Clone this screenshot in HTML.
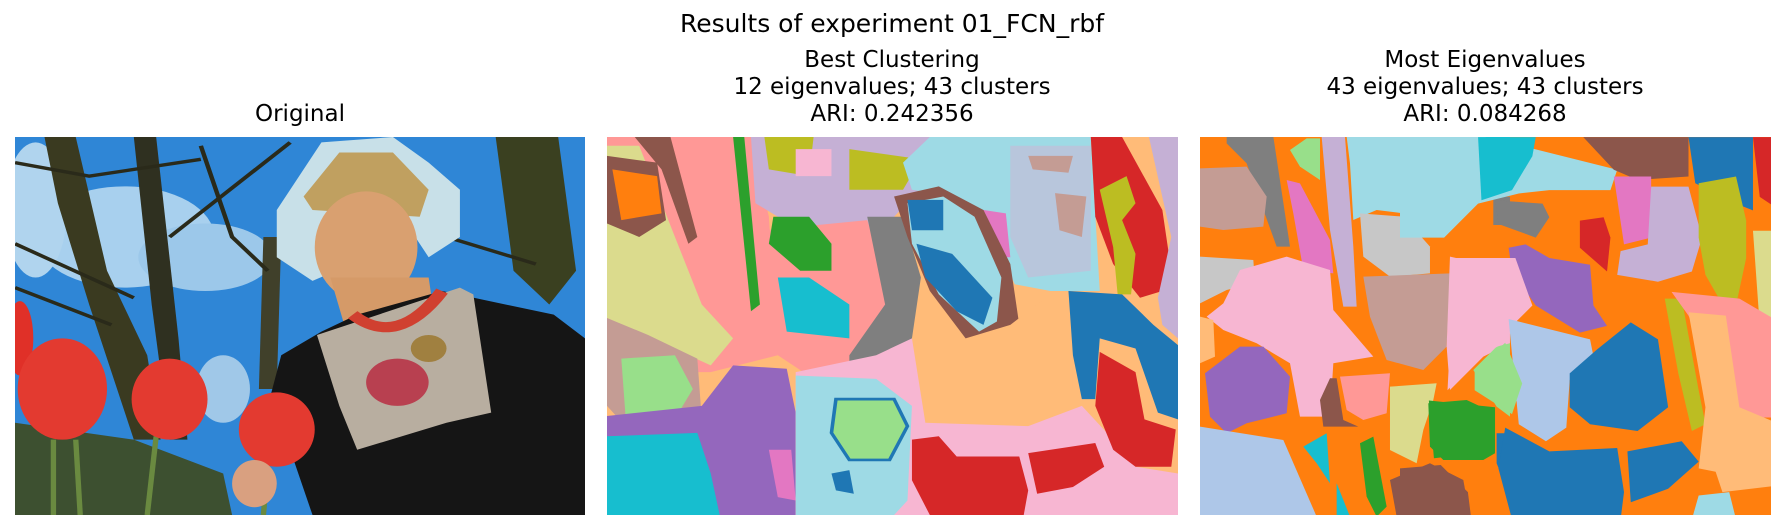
<!DOCTYPE html>
<html><head><meta charset="utf-8"><style>
body{margin:0;background:#fff;width:1785px;height:532px;position:relative;overflow:hidden;font-family:"DejaVu Sans","Liberation Sans",sans-serif;color:#000}
.t{position:absolute;white-space:nowrap;font-size:23px;line-height:27px;transform:translateX(-50%);text-align:center}
svg{position:absolute;top:137px;height:378px}
</style></head><body>
<div class="t" style="left:892px;top:10px;font-size:25px">Results of experiment 01_FCN_rbf</div>
<div class="t" style="left:300px;top:101px">Original</div>
<div class="t" style="left:892px;top:47px">Best Clustering<br>12 eigenvalues; 43 clusters<br>ARI: 0.242356</div>
<div class="t" style="left:1485px;top:47px">Most Eigenvalues<br>43 eigenvalues; 43 clusters<br>ARI: 0.084268</div>

<svg style="left:15px;width:570px" viewBox="34 404 1276 1119" preserveAspectRatio="none">
<rect x="34" y="404" width="1276" height="1119" fill="#2f86d6"/>
<ellipse cx="280" cy="700" rx="200" ry="150" fill="#a8d0ee"/>
<ellipse cx="460" cy="760" rx="150" ry="100" fill="#9cc8ea"/>
<ellipse cx="80" cy="620" rx="70" ry="200" fill="#b0d4ee"/>
<ellipse cx="500" cy="1150" rx="60" ry="100" fill="#a0c8e8"/>
<polygon points="100,404 170,404 240,800 330,1050 360,1300 300,1300 200,900 130,600" fill="#3a3a20"/>
<polygon points="300,404 350,404 400,1000 420,1300 380,1300 340,900" fill="#2f3020"/>
<polygon points="590,700 630,700 620,1150 580,1150" fill="#40402a"/>
<polygon points="1110,404 1250,404 1290,800 1230,900 1150,800 1130,600" fill="#3a4020"/>
<g stroke="#2a2a1a" stroke-width="10" fill="none">
<path d="M34,480 L200,520 L450,470"/><path d="M34,720 L300,880"/><path d="M380,700 L650,420"/><path d="M450,430 L520,700 L600,800"/><path d="M34,850 L250,960"/><path d="M1000,700 L1200,780"/></g>
<polygon points="620,620 720,420 880,404 960,480 1030,560 1030,700 960,760 930,700 700,830 620,760" fill="#c8e0e8"/>
<polygon points="680,580 760,450 880,450 960,560 940,640 700,620" fill="#c0a060"/>
<ellipse cx="820" cy="730" rx="115" ry="165" fill="#d9a070"/>
<polygon points="740,820 960,820 980,1000 780,1000" fill="#d59a68"/>
<polygon points="630,1050 720,980 800,930 990,860 1240,930 1310,1000 1310,1523 700,1523 650,1330 600,1200" fill="#151515"/>
<polygon points="710,990 1030,850 1060,870 1100,1220 1000,1250 800,1330 760,1200" fill="#b8aea0"/>
<ellipse cx="890" cy="1130" rx="70" ry="70" fill="#b84050"/>
<ellipse cx="960" cy="1030" rx="40" ry="40" fill="#a08040"/>
<path d="M790,930 Q890,1030 990,860" stroke="#d04030" stroke-width="30" fill="none"/>
<polygon points="34,1250 300,1300 500,1400 520,1523 34,1523" fill="#3d5030"/>
<g stroke="#6a8a40" stroke-width="12"><line x1="120" y1="1300" x2="120" y2="1523"/><line x1="170" y1="1300" x2="180" y2="1523"/><line x1="350" y1="1290" x2="330" y2="1523"/><line x1="600" y1="1380" x2="590" y2="1523"/></g>
<ellipse cx="45" cy="1000" rx="30" ry="110" fill="#e03028"/>
<ellipse cx="140" cy="1150" rx="100" ry="150" fill="#e33a30"/>
<ellipse cx="380" cy="1180" rx="85" ry="120" fill="#e33a30"/>
<ellipse cx="620" cy="1270" rx="85" ry="110" fill="#e33a30"/>
<ellipse cx="570" cy="1430" rx="50" ry="70" fill="#d9a080"/>
</svg>

<svg style="left:607px;width:571px" viewBox="18 404 1277 1119" preserveAspectRatio="none">
<rect x="18" y="404" width="1277" height="1119" fill="#ffbb78"/>
<polygon points="18,404 340,404 380,640 400,1050 250,1100 18,1100" fill="#ff9896"/>
<polygon points="18,430 90,430 170,700 230,900 300,1000 250,1080 18,940" fill="#dbdb8d"/>
<polygon points="80,404 160,404 220,700 200,720 140,500" fill="#8c564b"/>
<polygon points="18,460 130,480 150,650 90,700 18,660" fill="#8c564b"/>
<polygon points="30,500 130,520 140,630 50,650" fill="#ff7f0e"/>
<polygon points="300,404 325,404 360,900 340,920" fill="#2ca02c"/>
<polygon points="18,940 110,990 220,1060 230,1240 80,1290 18,1200" fill="#c49c94"/>
<polygon points="50,1060 170,1050 210,1150 160,1260 60,1240" fill="#98df8a"/>
<polygon points="18,1230 230,1200 300,1080 420,1090 440,1220 440,1523 18,1523" fill="#9467bd"/>
<polygon points="18,1290 220,1280 250,1400 270,1523 18,1523" fill="#17becf"/>
<polygon points="380,1330 430,1330 440,1480 400,1470" fill="#e377c2"/>
<polygon points="340,404 760,404 760,500 660,640 580,700 400,640 350,600" fill="#c5b0d5"/>
<polygon points="370,404 480,404 470,520 380,500" fill="#bcbd22"/>
<polygon points="560,440 720,470 680,560 560,560" fill="#bcbd22"/>
<polygon points="440,440 520,440 520,520 440,520" fill="#f7b6d2"/>
<polygon points="740,404 1100,404 1120,860 1010,860 930,840 880,700 800,580 700,560 680,480" fill="#9edae5"/>
<polygon points="920,430 1100,430 1100,800 960,820 920,700" fill="#b8c6dc"/>
<polygon points="960,460 1060,460 1050,510 970,500" fill="#c49c94"/>
<polygon points="1020,570 1090,580 1080,700 1030,680" fill="#c49c94"/>
<polygon points="860,620 910,630 920,760 880,760 860,700" fill="#e377c2"/>
<polygon points="1100,404 1170,404 1260,620 1280,800 1260,860 1210,880 1150,780 1110,640" fill="#d62728"/>
<polygon points="1230,404 1295,404 1295,1000 1260,960 1250,880 1280,700" fill="#c5b0d5"/>
<polygon points="1120,560 1180,520 1200,600 1170,650 1200,750 1190,870 1160,870 1150,730" fill="#bcbd22"/>
<polygon points="370,680 600,650 660,900 600,1100 480,1120 400,1050 380,900" fill="#ff9896"/>
<polygon points="600,640 680,640 720,820 700,1000 620,1100 560,1140 560,1050 640,900" fill="#7f7f7f"/>
<polygon points="390,640 470,640 520,720 520,800 450,800 380,720" fill="#2ca02c"/>
<polygon points="400,820 470,820 560,900 560,1000 420,980" fill="#17becf"/>
<polygon points="660,580 760,550 860,620 920,780 940,960 880,1060 820,1000 740,860 690,700" fill="#8c564b"/>
<polygon points="690,600 770,580 840,640 900,820 890,950 850,980 760,870 700,720" fill="#9edae5"/>
<polygon points="690,590 770,590 770,680 700,680" fill="#1f77b4"/>
<polygon points="710,720 790,750 880,880 860,960 800,920 730,820" fill="#1f77b4"/>
<polygon points="700,1010 820,1000 920,960 1020,860 1060,860 1060,1150 1140,1240 1200,1380 1295,1400 1295,1523 700,1523" fill="#ffbb78"/>
<polygon points="620,1050 700,1000 730,1250 960,1260 1080,1200 1150,1300 1200,1380 1295,1400 1295,1523 440,1523 440,1100" fill="#f7b6d2"/>
<polygon points="440,1110 620,1120 700,1200 690,1480 660,1523 440,1523" fill="#9edae5"/>
<polygon points="530,1180 660,1180 690,1260 650,1360 560,1360 520,1280" fill="#98df8a" stroke="#1f77b4" stroke-width="8"/>
<polygon points="1050,860 1170,870 1240,960 1295,1020 1295,1240 1250,1220 1200,1030 1120,1000 1110,1180 1080,1180 1060,1050" fill="#1f77b4"/>
<polygon points="700,1300 760,1290 800,1350 940,1350 960,1450 950,1523 740,1523 700,1420" fill="#d62728"/>
<polygon points="960,1340 1110,1310 1130,1380 1060,1440 980,1460" fill="#d62728"/>
<polygon points="1120,1040 1200,1100 1220,1240 1290,1270 1280,1380 1200,1380 1150,1330 1110,1200" fill="#d62728"/>
<polygon points="520,1400 560,1390 570,1460 530,1450" fill="#1f77b4"/>
</svg>

<svg style="left:1200px;width:571px" viewBox="0 0 571 378" preserveAspectRatio="none">
<rect x="0" y="0" width="571" height="378" fill="#ff7f0e"/>
<g transform="translate(-10,-7) scale(0.3333)">
<polygon points="110,20 250,20 300,350 260,350 170,100 110,40" fill="#7f7f7f"/>
<polygon points="300,60 350,25 390,25 390,150 330,110" fill="#98df8a"/>
<polygon points="30,115 170,110 230,200 220,290 100,300 30,290" fill="#c49c94"/>
<polygon points="290,150 330,160 420,330 430,430 340,420 310,250" fill="#e377c2"/>
<polygon points="395,20 465,20 490,350 500,530 460,530 420,300" fill="#c5b0d5"/>
<polygon points="470,20 880,20 880,100 800,270 700,280 640,250 560,240 490,270 480,100" fill="#9edae5"/>
<polygon points="870,20 960,20 960,190 900,190 850,210" fill="#17becf"/>
<polygon points="910,200 960,200 960,285 910,285" fill="#7f7f7f"/>
<polygon points="510,250 640,260 720,350 720,430 600,440 520,380" fill="#c7c7c7"/>
<polygon points="30,380 190,390 195,460 110,480 30,520" fill="#c7c7c7"/>
<polygon points="150,420 290,380 420,420 430,540 550,680 430,700 420,860 330,860 300,700 200,640 100,600 50,560 100,520" fill="#f7b6d2"/>
<polygon points="520,440 780,430 770,650 700,720 590,690 540,560" fill="#c49c94"/>
<polygon points="780,380 960,420 960,640 880,680 820,740 780,780 770,650" fill="#f7b6d2"/>
<polygon points="30,560 70,570 75,680 30,700" fill="#ffbb78"/>
<polygon points="45,730 150,650 220,650 300,740 290,850 170,880 110,910 60,860" fill="#9467bd"/>
<polygon points="390,810 420,745 440,745 460,870 505,890 400,890" fill="#8c564b"/>
<polygon points="450,740 600,730 590,850 520,870 470,840" fill="#ff9896"/>
<polygon points="600,770 740,760 730,810 700,900 680,1000 600,960" fill="#dbdb8d"/>
<polygon points="715,820 830,810 915,850 915,970 880,990 760,990 720,950" fill="#2ca02c"/>
<polygon points="850,720 920,650 960,640 960,860 920,830" fill="#98df8a"/>
<polygon points="920,910 960,910 960,1100 920,1000" fill="#1f77b4"/>
<polygon points="30,890 280,930 380,1160 30,1160" fill="#aec7e8"/>
<polygon points="340,950 410,910 420,1060 380,1000" fill="#17becf"/>
<polygon points="440,1060 480,1160 440,1160" fill="#17becf"/>
<polygon points="510,940 550,920 590,1130 560,1160 530,1100" fill="#2ca02c"/>
<polygon points="600,1050 720,1000 820,1050 840,1160 620,1160" fill="#8c564b"/>
</g>
<g transform="translate(200,-137) scale(0.3394)">
<polygon points="0,404 250,404 400,440 640,500 620,560 440,560 350,570 230,600 130,700 0,700" fill="#9edae5"/>
<polygon points="230,404 400,404 390,460 330,560 240,590" fill="#17becf"/>
<polygon points="540,404 850,404 850,520 700,530 630,500" fill="#8c564b"/>
<polygon points="850,404 1040,404 1040,620 990,600 870,540" fill="#1f77b4"/>
<polygon points="1040,404 1120,404 1120,620 1060,580" fill="#d62728"/>
<polygon points="280,590 420,600 440,640 400,700 290,660" fill="#7f7f7f"/>
<polygon points="630,520 740,520 740,700 660,720" fill="#e377c2"/>
<polygon points="740,550 850,550 890,700 860,800 760,830 640,810 650,740 730,720" fill="#c5b0d5"/>
<polygon points="530,650 600,640 620,700 610,800 530,730" fill="#d62728"/>
<polygon points="880,540 990,520 1020,650 1020,760 990,900 940,880 900,810 880,700" fill="#bcbd22"/>
<polygon points="1040,680 1120,680 1120,1020 1060,960" fill="#dbdb8d"/>
<polygon points="320,730 370,720 440,760 560,780 570,900 610,960 530,980 400,900 330,800" fill="#9467bd"/>
<polygon points="160,760 340,760 390,900 340,950 310,1010 230,1050 140,1150" fill="#f7b6d2"/>
<polygon points="320,940 560,1000 570,1050 500,1120 490,1260 430,1300 350,1250" fill="#aec7e8"/>
<polygon points="500,1100 580,1030 680,950 760,1000 790,1200 700,1270 560,1250 500,1200" fill="#1f77b4"/>
<polygon points="220,1090 310,1010 360,1130 330,1220 220,1150" fill="#98df8a"/>
<polygon points="780,880 830,880 880,1150 900,1250 860,1270 820,1100" fill="#bcbd22"/>
<polygon points="800,860 1000,880 1120,950 1120,1230 1000,1230 950,1160 850,930" fill="#ff9896"/>
<polygon points="850,920 960,930 1000,1200 1120,1250 1120,1430 950,1450 930,1390 880,1380 900,1200" fill="#ffbb78"/>
<polygon points="85,1180 280,1200 280,1330 100,1350" fill="#2ca02c"/>
<polygon points="310,1260 440,1330 640,1320 660,1450 650,1530 330,1530 290,1380" fill="#1f77b4"/>
<polygon points="670,1330 830,1300 880,1360 790,1440 680,1480" fill="#1f77b4"/>
<polygon points="0,1380 120,1370 200,1450 210,1530 0,1530" fill="#8c564b"/>
<polygon points="880,1460 970,1450 990,1530 860,1530" fill="#9edae5"/>
</g>
</svg>
</body></html>
